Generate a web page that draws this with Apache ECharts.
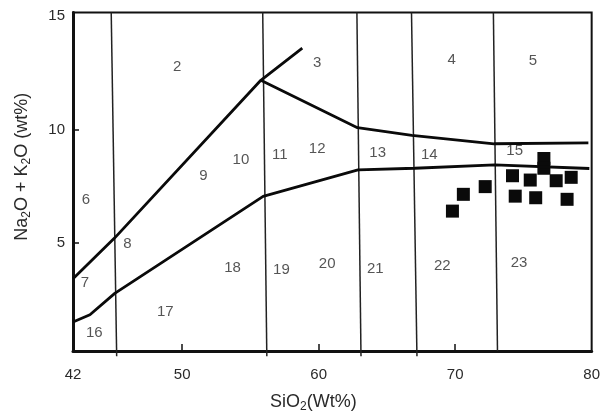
<!DOCTYPE html>
<html>
<head>
<meta charset="utf-8">
<title>TAS</title>
<script src="https://cdn.jsdelivr.net/npm/echarts@6/dist/echarts.min.js"></script>
<style>
html,body{margin:0;padding:0;background:#fff;}
#chart{width:603px;height:418px;}
</style>
</head>
<body>
<div id="chart"></div>
<script>
// axis ticks
var xTicks = [42, 50, 60, 70, 80];
var xInnerTicks = [50, 60, 70];
var yTicks = [5, 10, 15];
var yInnerTicks = [5, 10];

// samples (SiO2, Na2O+K2O)
var sampleSiO2 = [69.8, 70.6, 72.2, 74.2, 74.4, 75.5, 75.9, 76.5, 76.5, 77.4, 78.5, 78.2];
var sampleAlk  = [6.40, 7.14, 7.48, 7.96, 7.06, 7.77, 6.99, 8.72, 8.29, 7.74, 7.89, 6.92];

// field boundaries
var riseLine   = [[42, 3.42], [45.06, 5.22], [55.76, 12.17], [58.8, 13.59]];
var upperCurve = [[55.76, 12.17], [62.84, 10.08], [66.83, 9.74], [72.85, 9.37], [79.76, 9.41]];
var lowerCurve = [[42, 1.51], [43.24, 1.83], [45.06, 2.77], [55.93, 7.05], [62.88, 8.22], [67.03, 8.29], [72.9, 8.44], [79.83, 8.28]];
// vertical dividers: x at bottom, x at top, y of bottom end
var dividerBottom = [45.2, 56.2, 63.1, 67.2, 73.1];
var dividerTop    = [44.8, 55.9, 62.8, 66.8, 72.8];
var dividerFloor  = [0, 0, 0, 0, 0.23];

// field numbers
var fieldNames = ['2','3','4','5','6','7','8','9','10','11','12','13','14','15','16','17','18','19','20','21','22','23'];
var fieldX = [49.64, 59.89, 69.74, 75.7, 42.95, 42.88, 45.99, 51.56, 54.30, 57.15, 59.89, 64.32, 68.11, 74.36, 43.56, 48.76, 53.69, 57.27, 60.62, 64.15, 69.06, 74.68];
var fieldY = [12.75, 12.94, 13.08, 13.01, 6.88, 3.23, 4.94, 7.96, 8.68, 8.87, 9.16, 8.97, 8.86, 9.04, 1.04, 1.95, 3.88, 3.81, 4.07, 3.86, 3.97, 4.10];

var yTop = 15.16;
var yBottom = 0.23;

function init() {
	var myChart = echarts.init(document.getElementById('chart'));
	var series = [];

	// vertical dividers
	for (var i = 0; i < dividerBottom.length; i++) {
		series.push({
			type: 'line',
			data: [[dividerBottom[i], dividerFloor[i]], [dividerTop[i], yTop]],
			symbol: 'none',
			clip: false,
			silent: true,
			lineStyle: {color: '#222', width: 1.5}
		});
	}

	var curves = [riseLine, upperCurve, lowerCurve];
	for (var j = 0; j < curves.length; j++) {
		series.push({
			type: 'line',
			data: curves[j],
			symbol: 'none',
			silent: true,
			lineStyle: {color: '#0a0a0a', width: 2.8}
		});
	}

	var fieldData = [];
	for (var k = 0; k < fieldNames.length; k++) {
		fieldData.push({value: [fieldX[k], fieldY[k]], name: fieldNames[k]});
	}
	series.push({
		type: 'scatter',
		data: fieldData,
		symbolSize: 1,
		itemStyle: {color: 'rgba(0,0,0,0)'},
		silent: true,
		label: {
			show: true,
			position: 'inside',
			formatter: function(p){ return p.name; },
			color: '#2a2a2a',
			fontSize: 15,
			fontFamily: 'Liberation Sans, Arial, sans-serif'
		}
	});

	var sampleData = [];
	for (var m = 0; m < sampleSiO2.length; m++) {
		sampleData.push([sampleSiO2[m], sampleAlk[m]]);
	}
	series.push({
		type: 'scatter',
		data: sampleData,
		symbol: 'rect',
		symbolSize: 13,
		itemStyle: {color: '#0a0a0a', opacity: 1}
	});

	var nameFont = 'Liberation Sans, Arial, sans-serif';
	var nameRich = {
		a: {fontSize: 18, color: '#2a2a2a', fontFamily: nameFont, lineHeight: 21},
		s: {fontSize: 12, color: '#2a2a2a', fontFamily: nameFont, lineHeight: 21, verticalAlign: 'bottom', padding: [10, 0, 0, 0]}
	};
	var option = {
		animation: false,
		grid: {
			left: 73, top: 12.5, width: 521, height: 344.5,
			show: true, borderColor: '#111', borderWidth: 2
		},
		xAxis: {
			type: 'value',
			min: 42, max: 80,
			name: '{a|SiO}{s|2}{a|(Wt%)}',
			nameLocation: 'middle',
			nameGap: 41,
			nameTextStyle: {padding: [0, 38, 0, 0], rich: nameRich},
			axisLine: {lineStyle: {color: '#111', width: 3}},
			axisTick: {show: true, inside: true, length: 7, customValues: xInnerTicks, lineStyle: {color: '#111', width: 1.5}},
			axisLabel: {customValues: xTicks, color: '#2a2a2a', fontSize: 15, margin: 16, fontFamily: nameFont},
			splitLine: {show: false}
		},
		yAxis: {
			type: 'value',
			min: yBottom, max: yTop,
			name: '{a|Na}{s|2}{a|O + K}{s|2}{a|O (wt%)}',
			nameLocation: 'middle',
			nameRotate: 90,
			nameGap: 40,
			nameTextStyle: {padding: [0, 0, 0, 30], rich: nameRich},
			axisLine: {lineStyle: {color: '#111', width: 3}},
			axisTick: {show: true, inside: true, length: 6, customValues: yInnerTicks, lineStyle: {color: '#111', width: 1.5}},
			axisLabel: {customValues: yTicks, color: '#2a2a2a', fontSize: 15, margin: 8, fontFamily: nameFont},
			splitLine: {show: false}
		},
		series: series
	};
	myChart.setOption(option);
}

init();
</script>
</body>
</html>
